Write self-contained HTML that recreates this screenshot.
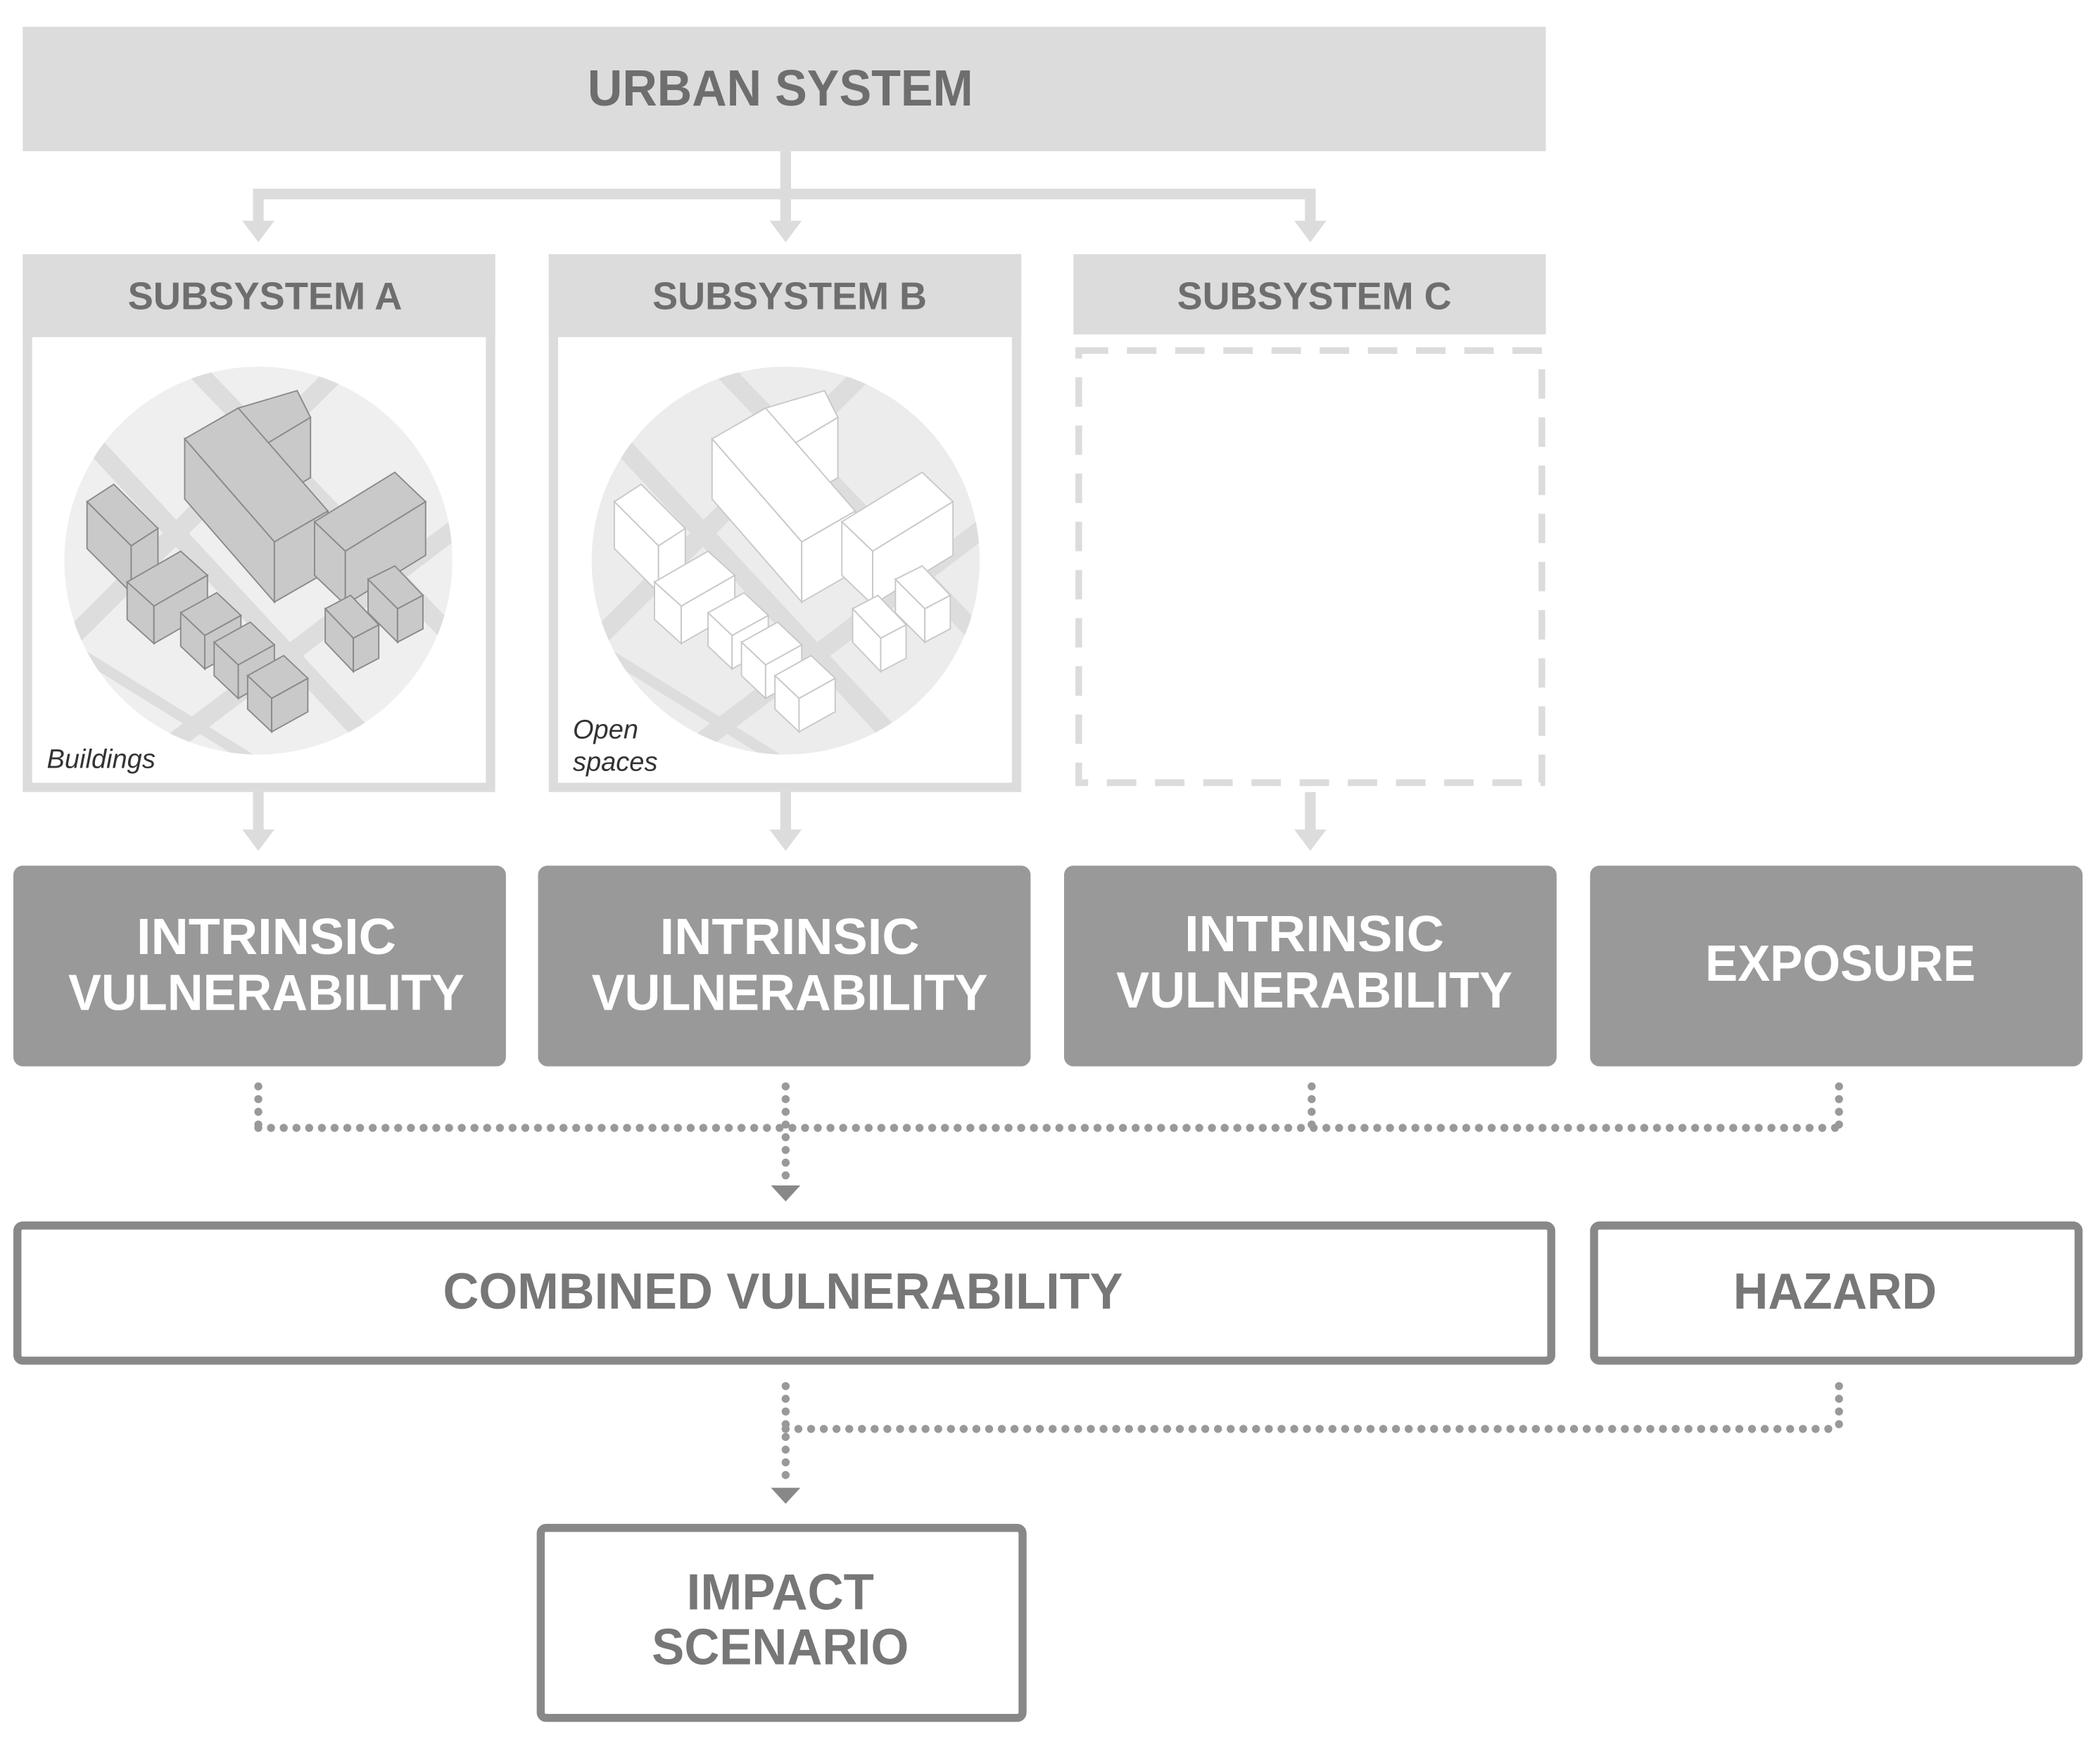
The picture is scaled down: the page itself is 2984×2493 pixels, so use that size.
<!DOCTYPE html>
<html><head><meta charset="utf-8"><style>
html,body{margin:0;padding:0;background:#fff;}
svg{display:block;}
text{font-family:"Liberation Sans Narrow","Liberation Sans",sans-serif;font-weight:bold;}
.it{font-family:"Liberation Sans",sans-serif;font-style:italic;font-weight:normal;fill:#333;font-size:20px;}
</style></head><body>
<svg width="2984" height="2493" viewBox="0 0 1569 1311" preserveAspectRatio="none" xmlns="http://www.w3.org/2000/svg">
<defs>
<clipPath id="cA"><circle cx="193" cy="419" r="145"/></clipPath>
<g id="roads" stroke="#dddddd" stroke-width="14" fill="none">
<line x1="40" y1="300" x2="300" y2="580"/>
<line x1="140" y1="270" x2="380" y2="520"/>
<line x1="40" y1="490" x2="260" y2="270"/>
<line x1="70" y1="600" x2="360" y2="380"/>
<line x1="30" y1="470" x2="240" y2="600" stroke-width="8"/>
</g>
<g id="bld" stroke-width="1">
<polygon points="65,375 85,362 118,395 98,408"/><polygon points="65,375 98,408 98,443 65,410"/><polygon points="98,408 118,395 118,430 98,443"/>
<polygon points="178,305 222,292 232,312 192,336"/><polygon points="192,336 232,312 232,357 192,381"/>
<polygon points="138,328 178,305 245,382 205,405"/><polygon points="138,328 205,405 205,450 138,373"/><polygon points="205,405 245,382 245,427 205,450"/>
<polygon points="235,390 295,353 318,375 258,412"/><polygon points="235,390 258,412 258,452 235,430"/><polygon points="258,412 318,375 318,415 258,452"/>
<polygon points="95,435 135,412 155,430 115,453"/><polygon points="95,435 115,453 115,481 95,463"/><polygon points="115,453 155,430 155,458 115,481"/>
<polygon points="135,458 162,443 180,460 153,475"/><polygon points="135,458 153,475 153,500 135,483"/><polygon points="153,475 180,460 180,485 153,500"/>
<polygon points="160,480 187,465 205,482 178,497"/><polygon points="160,480 178,497 178,522 160,505"/><polygon points="178,497 205,482 205,507 178,522"/>
<polygon points="185,505 212,490 230,507 203,522"/><polygon points="185,505 203,522 203,547 185,530"/><polygon points="203,522 230,507 230,532 203,547"/>
<polygon points="243,455 262,445 283,467 264,477"/><polygon points="243,455 264,477 264,502 243,480"/><polygon points="264,477 283,467 283,492 264,502"/>
<polygon points="275,433 295,423 316,445 297,455"/><polygon points="275,433 297,455 297,480 275,458"/><polygon points="297,455 316,445 316,470 297,480"/>
</g>
</defs>

<rect x="17" y="20" width="1138" height="93" fill="#dcdcdc"/>
<text x="583" y="79" font-size="38" fill="#6e6e6e" text-anchor="middle" textLength="288" lengthAdjust="spacingAndGlyphs">URBAN SYSTEM</text>

<g stroke="#dcdcdc" stroke-width="8" fill="none">
<line x1="587" y1="113" x2="587" y2="168"/>
<polyline points="193,170 193,145 979,145 979,170"/>
</g>
<g fill="#dcdcdc">
<polygon points="181,165 205,165 193,181"/><polygon points="575,165 599,165 587,181"/><polygon points="967,165 991,165 979,181"/>
</g>

<rect x="20.5" y="193.5" width="346" height="395" fill="#fff" stroke="#dcdcdc" stroke-width="7"/>
<rect x="17" y="190" width="353" height="62" fill="#dcdcdc"/>
<text x="198" y="231" font-size="29" fill="#6e6e6e" text-anchor="middle" textLength="205" lengthAdjust="spacingAndGlyphs">SUBSYSTEM A</text>
<g clip-path="url(#cA)">
<circle cx="193" cy="419" r="145" fill="#efefef"/>
<use href="#roads"/>
</g>
<use href="#bld" fill="#c9c9c9" stroke="#8a8a8a"/>
<text class="it" x="35" y="574">Buildings</text>

<rect x="413.5" y="193.5" width="346" height="395" fill="#fff" stroke="#dcdcdc" stroke-width="7"/>
<rect x="410" y="190" width="353" height="62" fill="#dcdcdc"/>
<text x="590" y="231" font-size="29" fill="#6e6e6e" text-anchor="middle" textLength="205" lengthAdjust="spacingAndGlyphs">SUBSYSTEM B</text>
<g transform="translate(394,0)">
<g clip-path="url(#cA)">
<circle cx="193" cy="419" r="145" fill="#ececec"/>
<use href="#roads" style="stroke:#d4d4d4"/>
</g>
<use href="#bld" fill="#ffffff" stroke="#c8c8c8"/>
</g>
<text class="it" x="428" y="552">Open</text>
<text class="it" x="428" y="576">spaces</text>

<rect x="802" y="190" width="353" height="60" fill="#dcdcdc"/>
<text x="982" y="231" font-size="29" fill="#6e6e6e" text-anchor="middle" textLength="205" lengthAdjust="spacingAndGlyphs">SUBSYSTEM C</text>
<rect x="806" y="262" width="346" height="323" fill="none" stroke="#dcdcdc" stroke-width="5" stroke-dasharray="22,14"/>

<g stroke="#dcdcdc" stroke-width="8"><line x1="193" y1="592" x2="193" y2="622"/><line x1="587" y1="592" x2="587" y2="622"/><line x1="979" y1="592" x2="979" y2="622"/></g>
<g fill="#dcdcdc"><polygon points="181,620 205,620 193,636"/><polygon points="575,620 599,620 587,636"/><polygon points="967,620 991,620 979,636"/></g>

<g fill="#999999">
<rect x="10" y="647" width="368" height="150" rx="7"/>
<rect x="402" y="647" width="368" height="150" rx="7"/>
<rect x="795" y="647" width="368" height="150" rx="7"/>
<rect x="1188" y="647" width="368" height="150" rx="7"/>
</g>
<g fill="#ffffff" font-size="38" text-anchor="middle">
<text x="199" y="713" textLength="194" lengthAdjust="spacingAndGlyphs">INTRINSIC</text>
<text x="199" y="755" textLength="296" lengthAdjust="spacingAndGlyphs">VULNERABILITY</text>
<text x="590" y="713" textLength="194" lengthAdjust="spacingAndGlyphs">INTRINSIC</text>
<text x="590" y="755" textLength="296" lengthAdjust="spacingAndGlyphs">VULNERABILITY</text>
<text x="982" y="711" textLength="194" lengthAdjust="spacingAndGlyphs">INTRINSIC</text>
<text x="982" y="753" textLength="296" lengthAdjust="spacingAndGlyphs">VULNERABILITY</text>
<text x="1375" y="733" textLength="202" lengthAdjust="spacingAndGlyphs">EXPOSURE</text>
</g>

<g stroke="#999" stroke-width="6" stroke-linecap="round" stroke-dasharray="0,9.5" fill="none">
<line x1="193" y1="812" x2="193" y2="843"/>
<line x1="587" y1="812" x2="587" y2="880"/>
<line x1="980" y1="812" x2="980" y2="843"/>
<line x1="1374" y1="812" x2="1374" y2="843"/>
<line x1="193" y1="843" x2="1374" y2="843"/>
<line x1="587" y1="1036" x2="587" y2="1106"/>
<line x1="1374" y1="1036" x2="1374" y2="1068"/>
<line x1="587" y1="1068" x2="1374" y2="1068"/>
</g>
<polygon points="576,886 598,886 587,898" fill="#888"/>
<polygon points="576,1112 598,1112 587,1124" fill="#888"/>

<rect x="13" y="916" width="1146" height="101" rx="4" fill="#fff" stroke="#888" stroke-width="6"/>
<rect x="1191" y="916" width="362" height="101" rx="4" fill="#fff" stroke="#888" stroke-width="6"/>
<text x="585" y="978" font-size="38" fill="#777" text-anchor="middle" textLength="508" lengthAdjust="spacingAndGlyphs">COMBINED VULNERABILITY</text>
<text x="1371" y="978" font-size="38" fill="#777" text-anchor="middle" textLength="152" lengthAdjust="spacingAndGlyphs">HAZARD</text>

<rect x="404" y="1142" width="360" height="142" rx="4" fill="#fff" stroke="#888" stroke-width="6"/>
<text x="583" y="1203" font-size="38" fill="#777" text-anchor="middle" textLength="140" lengthAdjust="spacingAndGlyphs">IMPACT</text>
<text x="583" y="1244" font-size="38" fill="#777" text-anchor="middle" textLength="192" lengthAdjust="spacingAndGlyphs">SCENARIO</text>
</svg>
</body></html>
